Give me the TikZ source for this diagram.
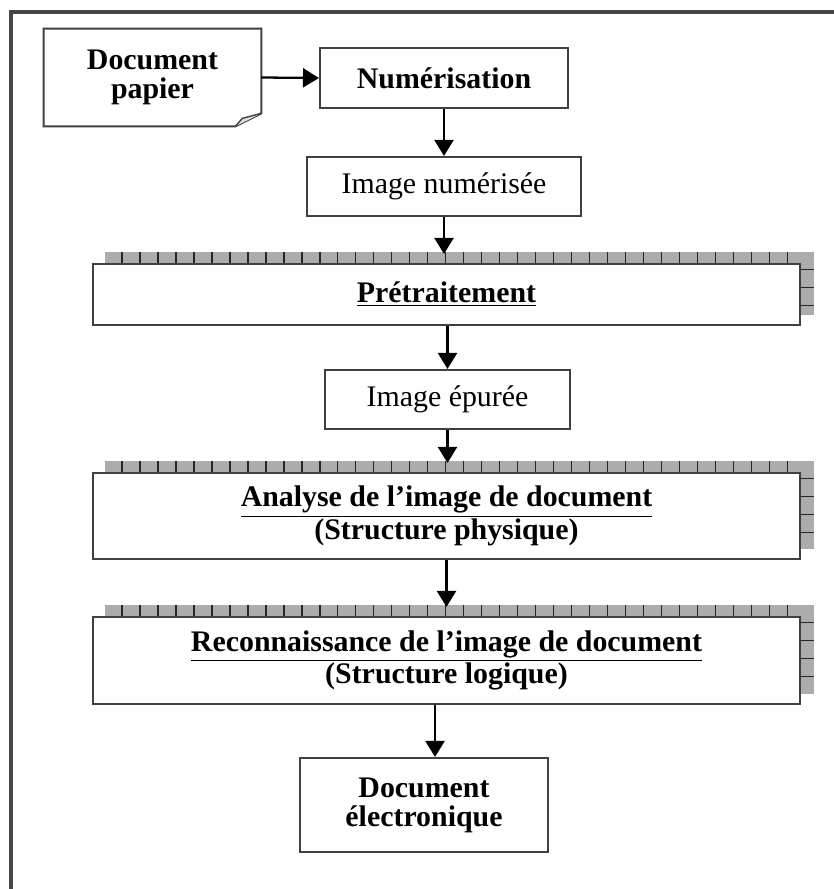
\documentclass[tikz,border=0pt]{standalone}
\usepackage{fontspec}
\setmainfont{Liberation Serif}
\usetikzlibrary{arrows.meta,backgrounds}

\tikzset{
	bloc/.style={draw=black!75, line width=1.2pt, fill=white, align=center, inner sep=0pt},
	grandbloc/.style={bloc, minimum width=14.14cm},
	fleche/.style={line width=1.3pt, -{Triangle[length=0.32cm,width=0.38cm]}},
	ombre/.style={fill=gray!65},
	trait/.style={gray!30!black, line width=0.6pt},
}
% ombre hachurée des grands blocs : #1 = noeud, #2 = dernier trait du côté droit (cm)
\newcommand{\ombrebloc}[2]{%
	\begin{scope}[on background layer]
		\fill[ombre] ([xshift=0.26cm,yshift=0.22cm]#1.south west) rectangle ([xshift=0.26cm,yshift=0.22cm]#1.north east);
		\foreach \k in {0.6,0.96,...,14.1}
			\draw[trait] ([xshift=\k cm]#1.north west) -- ++(0,-11);
		\foreach \k in {0.14,0.5,...,#2}
			\draw[trait] ([yshift=-\k cm]#1.north east) -- ++(13,0);
	\end{scope}}

\begin{document}
\begin{tikzpicture}[x=0.02cm, y=-0.02cm, font=\fontsize{17}{16.5}\selectfont]
	\useasboundingbox (0,0) rectangle (834,889);
	% Cadre (seuls le haut et la gauche sont visibles)
	\draw[gray!55!black, line width=2.5pt] (11,889) -- (11,12) -- (834,12);

	% Document papier avec coin replié
	\node[align=center, minimum width=4.34cm, minimum height=1.94cm, inner sep=0pt] (papier) at (152.5,77.5)
		{\textbf{Document}\\\textbf{papier}};
	\draw[black!75, line width=1.2pt] (papier.north west) -- (papier.north east)
		-- ([yshift=0.26cm]papier.south east) -- ([xshift=-0.52cm]papier.south east)
		-- (papier.south west) -- cycle;
	\draw[black!75, line width=0.8pt, fill=gray!25] ([xshift=-0.52cm]papier.south east)
		-- ([xshift=-0.38cm,yshift=0.16cm]papier.south east) -- ([yshift=0.26cm]papier.south east);

	% Etapes
	\node[bloc, minimum width=4.96cm, minimum height=1.2cm] (numer) at (444,78) {\textbf{Numérisation}};
	\node[bloc, minimum width=5.48cm, minimum height=1.18cm] (imgnum) at (444,186.5) {Image numérisée};
	\node[grandbloc, minimum height=1.22cm] (pretr) at (446.5,294.5) {\underline{\textbf{Prétraitement}}};
	\node[bloc, minimum width=4.9cm, minimum height=1.18cm] (imgep) at (447.5,399.5) {Image épurée};
	\node[grandbloc, minimum height=1.72cm] (analyse) at (446.5,516)
		{\underline{\textbf{Analyse de l’image de document}}\\\textbf{(Structure physique)}};
	\node[grandbloc, minimum height=1.74cm] (reco) at (446.5,660.5)
		{\underline{\textbf{Reconnaissance de l’image de document}}\\\textbf{(Structure logique)}};
	\node[bloc, minimum width=4.96cm, minimum height=1.88cm] (docelec) at (424,805)
		{\textbf{Document}\\\textbf{électronique}};

	% Ombres
	\ombrebloc{pretr}{0.9}
	\ombrebloc{analyse}{1.4}
	\ombrebloc{reco}{1.4}

	% Flèches
	\draw[fleche] (papier.east) -- (numer.west);
	\draw[fleche] (numer.south) -- (imgnum.north);
	\draw[fleche, shorten >=0.18cm] (imgnum.south) -- (imgnum.south |- pretr.north);
	\draw[fleche] (pretr.south -| imgep.north) -- (imgep.north);
	\draw[fleche, shorten >=0.18cm] (imgep.south) -- (imgep.south |- analyse.north);
	\draw[fleche, shorten >=0.18cm] (analyse.south) -- (reco.north);
	\draw[fleche] ([xshift=0.22cm]docelec.north |- reco.south) -- ([xshift=0.22cm]docelec.north);
\end{tikzpicture}
\end{document}
